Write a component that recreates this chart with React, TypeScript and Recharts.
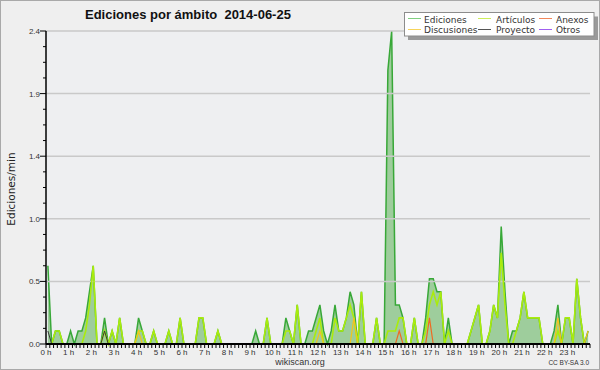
import React from 'react';
import { ComposedChart, Area, Line, XAxis, YAxis, CartesianGrid, ReferenceLine } from 'recharts';

// 10-minute slots, 0h .. 23h50 (edits per minute)
const ediciones = [
  0.6, 0, 0.1, 0.1, 0, 0, 0.1, 0, 0.1, 0.1, 0.2, 0.4,
  0.6, 0, 0, 0.2, 0, 0.1, 0, 0.2, 0, 0, 0, 0,
  0.2, 0.1, 0, 0, 0.1, 0, 0, 0, 0.1, 0, 0, 0.2,
  0, 0, 0, 0, 0.2, 0.2, 0, 0, 0, 0.1, 0, 0,
  0, 0, 0, 0, 0, 0, 0, 0.1, 0, 0, 0.2, 0,
  0, 0, 0, 0.2, 0.1, 0, 0.3, 0, 0, 0.1, 0.1, 0.2,
  0.3, 0.1, 0, 0.1, 0.3, 0.1, 0.1, 0.2, 0.4, 0.3, 0, 0.4,
  0, 0, 0, 0.2, 0, 0, 2.1, 2.4, 0.3, 0.3, 0.2, 0,
  0, 0.2, 0, 0, 0.2, 0.5, 0.5, 0.4, 0.4, 0, 0.2, 0,
  0, 0, 0, 0, 0.1, 0.2, 0.3, 0, 0, 0.1, 0.3, 0.2,
  0.9, 0.4, 0, 0.1, 0.1, 0.2, 0.4, 0.2, 0.2, 0.2, 0.2, 0,
  0, 0, 0.1, 0.3, 0, 0.2, 0.2, 0, 0.5, 0.2, 0, 0.1,
];

const articulos = [
  0, 0, 0.1, 0.1, 0, 0, 0, 0, 0, 0, 0.1, 0.3,
  0.6, 0, 0, 0.1, 0, 0.1, 0, 0.2, 0, 0, 0, 0,
  0.1, 0.1, 0, 0, 0.1, 0, 0, 0, 0.1, 0, 0, 0.2,
  0, 0, 0, 0, 0.2, 0.2, 0, 0, 0, 0.1, 0, 0,
  0, 0, 0, 0, 0, 0, 0, 0, 0, 0, 0.2, 0,
  0, 0, 0, 0.1, 0.1, 0, 0.3, 0, 0, 0, 0, 0.1,
  0.2, 0, 0, 0, 0.2, 0.1, 0.1, 0.2, 0.3, 0.2, 0, 0.4,
  0, 0, 0, 0.2, 0, 0, 0.1, 0.1, 0.1, 0.2, 0.2, 0,
  0, 0.2, 0, 0, 0.1, 0.3, 0.4, 0.3, 0.4, 0, 0.1, 0,
  0, 0, 0, 0, 0.1, 0.2, 0.3, 0, 0, 0.1, 0.3, 0.2,
  0.7, 0.3, 0, 0, 0.1, 0.2, 0.4, 0.2, 0.2, 0.2, 0.2, 0,
  0, 0, 0, 0.1, 0, 0.2, 0.2, 0, 0.5, 0.2, 0, 0,
];

const discusiones = [
  0, 0, 0, 0, 0, 0, 0, 0, 0, 0, 0, 0,
  0, 0, 0, 0, 0, 0, 0, 0, 0, 0, 0, 0,
  0.1, 0, 0, 0, 0, 0, 0, 0, 0, 0, 0, 0,
  0, 0, 0, 0, 0, 0, 0, 0, 0, 0, 0, 0,
  0, 0, 0, 0, 0, 0, 0, 0, 0, 0, 0, 0,
  0, 0, 0, 0, 0, 0, 0, 0, 0, 0, 0, 0,
  0.1, 0, 0, 0, 0, 0, 0, 0, 0, 0.2, 0, 0,
  0, 0, 0, 0, 0, 0, 0, 0, 0, 0, 0, 0,
  0, 0, 0, 0, 0, 0, 0, 0, 0, 0, 0, 0,
  0, 0, 0, 0, 0, 0, 0, 0, 0, 0, 0, 0,
  0, 0, 0, 0, 0, 0, 0, 0, 0, 0, 0, 0,
  0, 0, 0, 0.2, 0, 0, 0, 0, 0, 0, 0, 0.1,
];

const anexos = [
  0, 0, 0, 0, 0, 0, 0, 0, 0, 0, 0, 0,
  0, 0, 0, 0, 0, 0, 0, 0, 0, 0, 0, 0,
  0, 0, 0, 0, 0, 0, 0, 0, 0, 0, 0, 0,
  0, 0, 0, 0, 0, 0, 0, 0, 0, 0, 0, 0,
  0, 0, 0, 0, 0, 0, 0, 0, 0, 0, 0, 0,
  0, 0, 0, 0, 0, 0, 0, 0, 0, 0, 0, 0,
  0, 0, 0, 0, 0, 0, 0, 0, 0, 0, 0, 0,
  0, 0, 0, 0, 0, 0, 0, 0, 0, 0.1, 0, 0,
  0, 0, 0, 0, 0, 0.2, 0, 0, 0, 0, 0, 0,
  0, 0, 0, 0, 0, 0, 0, 0, 0, 0, 0, 0,
  0, 0, 0, 0, 0, 0, 0, 0, 0, 0, 0, 0,
  0, 0, 0, 0, 0, 0, 0, 0, 0, 0, 0, 0,
];

const proyecto = [
  0.1, 0, 0, 0, 0, 0, 0, 0, 0, 0, 0, 0,
  0, 0, 0, 0.1, 0, 0, 0, 0, 0, 0, 0, 0,
  0, 0, 0, 0, 0, 0, 0, 0, 0, 0, 0, 0,
  0, 0, 0, 0, 0, 0, 0, 0, 0, 0, 0, 0,
  0, 0, 0, 0, 0, 0, 0, 0, 0, 0, 0, 0,
  0, 0, 0, 0, 0, 0, 0, 0, 0, 0, 0, 0,
  0, 0, 0, 0, 0, 0, 0, 0, 0, 0, 0, 0,
  0, 0, 0, 0, 0, 0, 0, 0, 0, 0, 0, 0,
  0, 0, 0, 0, 0, 0, 0, 0, 0, 0, 0, 0,
  0, 0, 0, 0, 0, 0, 0, 0, 0, 0, 0, 0,
  0, 0, 0, 0, 0, 0, 0, 0, 0, 0, 0, 0,
  0, 0, 0, 0, 0, 0, 0, 0, 0, 0, 0, 0,
];

const otros = [
  0, 0, 0, 0, 0, 0, 0, 0, 0, 0, 0, 0,
  0, 0, 0, 0, 0, 0, 0, 0, 0, 0, 0, 0,
  0, 0, 0, 0, 0, 0, 0, 0, 0, 0, 0, 0,
  0, 0, 0, 0, 0, 0, 0, 0, 0, 0, 0, 0,
  0, 0, 0, 0, 0, 0, 0, 0, 0, 0, 0, 0,
  0, 0, 0, 0, 0, 0, 0, 0, 0, 0, 0, 0,
  0, 0, 0, 0, 0, 0, 0, 0, 0, 0, 0, 0,
  0, 0, 0, 0, 0, 0, 0, 0, 0, 0, 0, 0,
  0, 0, 0, 0, 0, 0, 0, 0, 0, 0, 0, 0,
  0, 0, 0, 0, 0, 0, 0, 0, 0, 0, 0, 0,
  0, 0, 0, 0, 0, 0, 0, 0, 0, 0, 0, 0,
  0, 0, 0, 0, 0, 0, 0, 0, 0, 0, 0, 0,
];

const yMajor = [0.48, 0.96, 1.44, 1.92, 2.4];
const yTicks = [0, 0.12, 0.24, 0.36, 0.48, 0.6, 0.72, 0.84, 0.96, 1.08, 1.2, 1.32, 1.44, 1.56, 1.68, 1.8, 1.92, 2.04, 2.16, 2.28, 2.4];
const xTicks = Array.from({ length: 145 }, (_, i) => i);
const hourLabels = ['0 h', '1 h', '2 h', '3 h', '4 h', '5 h', '6 h', '7 h', '8 h', '9 h', '10 h', '11 h', '12 h', '13 h', '14 h', '15 h', '16 h', '17 h', '18 h', '19 h', '20 h', '21 h', '22 h', '23 h'];

const data = ediciones.map((v, i) => ({
  t: i + 0.5,
  ediciones: v,
  articulos: articulos[i],
  discusiones: discusiones[i],
  anexos: anexos[i],
  proyecto: proyecto[i],
  otros: otros[i],
}));

const C = {
  ediciones: '#38a838',
  edFill: '#9ecd9c',
  articulos: '#aaec0c',
  discusiones: '#f2c41c',
  anexos: '#ef6a22',
  proyecto: '#383838',
  otros: '#9a3cf0',
};

const XTick = (props: any) => {
  const { x, y, payload } = props;
  const v = payload.value;
  const label = v % 6 === 0 ? hourLabels[v / 6] : undefined;
  return (
    <g>
      <line x1={x} y1={y} x2={x} y2={y + 4} stroke="#000" strokeWidth={1} />
      {label && (
        <text x={x} y={y + 11} textAnchor="middle" fontFamily="Liberation Sans" fontSize={8} fill="#333">
          {label}
        </text>
      )}
    </g>
  );
};

const YTick = (props: any) => {
  const { x, y, payload } = props;
  const v = payload.value;
  const major = v === 0 || yMajor.some((m) => Math.abs(m - v) < 1e-6);
  return (
    <g>
      <line x1={x - (major ? 6 : 3)} y1={y} x2={x} y2={y} stroke="#000" strokeWidth={1} />
      {major && (
        <text x={x - 6} y={y + 3} textAnchor="end" fontFamily="Liberation Sans" fontSize={8} fill="#333">
          {v.toFixed(1)}
        </text>
      )}
    </g>
  );
};

const legendItems = [
  { name: 'Ediciones', color: '#7fcf7f', col: 0, row: 0 },
  { name: 'Artículos', color: '#cdee5a', col: 1, row: 0 },
  { name: 'Anexos', color: '#f2875a', col: 2, row: 0 },
  { name: 'Discusiones', color: '#f7d45a', col: 0, row: 1 },
  { name: 'Proyecto', color: '#555555', col: 1, row: 1 },
  { name: 'Otros', color: '#a060f0', col: 2, row: 1 },
];
const legendCols = [408, 478, 539];
const legendTextX = [424, 496, 556];

export default function App() {
  return (
    <div
      style={{
        position: 'absolute',
        left: 0,
        top: 0,
        width: 600,
        height: 370,
        background: '#efefef',
        boxShadow: 'inset 0 0 0 1px #a9a9a9',
      }}
    >
      <ComposedChart width={600} height={370} data={data} margin={{ top: 31, right: 10, bottom: 0, left: 0 }}>
        <CartesianGrid fill="#eeeff1" vertical={false} horizontal={false} />
        <XAxis
          type="number"
          dataKey="t"
          domain={[0, 144]}
          ticks={xTicks}
          interval={0}
          height={26}
          tickSize={0}
          tickMargin={0}
          tickLine={false}
          tick={<XTick />}
          axisLine={{ stroke: '#000', strokeWidth: 2 }}
        />
        <YAxis
          type="number"
          domain={[0, 2.4]}
          ticks={yTicks}
          interval={0}
          width={46}
          tickSize={0}
          tickMargin={0}
          tickLine={false}
          tick={<YTick />}
          axisLine={{ stroke: '#000', strokeWidth: 1.5 }}
        />
        {yMajor.map((m) => (
          <ReferenceLine key={m} y={m} stroke="#c9c9c9" strokeWidth={1.5} />
        ))}
        <Area
          type="linear"
          dataKey="ediciones"
          stroke={C.ediciones}
          strokeWidth={1.5}
          fill={C.edFill}
          fillOpacity={1}
          isAnimationActive={false}
        />
        <Line type="linear" dataKey="articulos" stroke={C.articulos} strokeWidth={1.6} dot={false} isAnimationActive={false} />
        <Line type="linear" dataKey="proyecto" stroke={C.proyecto} strokeWidth={1} dot={false} isAnimationActive={false} />
        <Line type="linear" dataKey="discusiones" stroke={C.discusiones} strokeWidth={1.2} dot={false} isAnimationActive={false} />
        <Line type="linear" dataKey="anexos" stroke={C.anexos} strokeWidth={1.2} dot={false} isAnimationActive={false} />
        <Line type="linear" dataKey="otros" stroke={C.otros} strokeWidth={1} dot={false} isAnimationActive={false} />
      </ComposedChart>
      <svg
        width={600}
        height={370}
        style={{ position: 'absolute', left: 0, top: 0, pointerEvents: 'none' }}
      >
        <text
          x={85}
          y={18.5}
          fontFamily="Liberation Sans"
          fontWeight="bold"
          fontSize={13}
          fill="#111"
          style={{ whiteSpace: 'pre' }}
        >
          {'Ediciones por ámbito  2014-06-25'}
        </text>
        <rect x={408} y={16.5} width={190} height={23.5} fill="#9a9a9a" />
        <rect x={404.5} y={12.5} width={189.5} height={23.5} fill="#ffffff" stroke="#8c8c8c" strokeWidth={1} />
        {legendItems.map((it) => (
          <g key={it.name}>
            <line
              x1={legendCols[it.col]}
              x2={legendCols[it.col] + 13}
              y1={18.5 + it.row * 11}
              y2={18.5 + it.row * 11}
              stroke={it.color}
              strokeWidth={1}
            />
            <text x={legendTextX[it.col]} y={22.5 + it.row * 10} fontFamily="DejaVu Sans" fontSize={9} fill="#333">
              {it.name}
            </text>
          </g>
        ))}
        <text
          x={15}
          y={189}
          transform="rotate(-90 15 189)"
          textAnchor="middle"
          fontFamily="DejaVu Sans"
          fontSize={10.5}
          fill="#222"
        >
          Ediciones/min
        </text>
        <text x={300} y={364.5} textAnchor="middle" fontFamily="Liberation Sans" fontSize={9} fill="#333">
          wikiscan.org
        </text>
        <text x={589} y={365} textAnchor="end" fontFamily="Liberation Sans" fontSize={6.5} fill="#333">
          CC BY-SA 3.0
        </text>
      </svg>
    </div>
  );
}
